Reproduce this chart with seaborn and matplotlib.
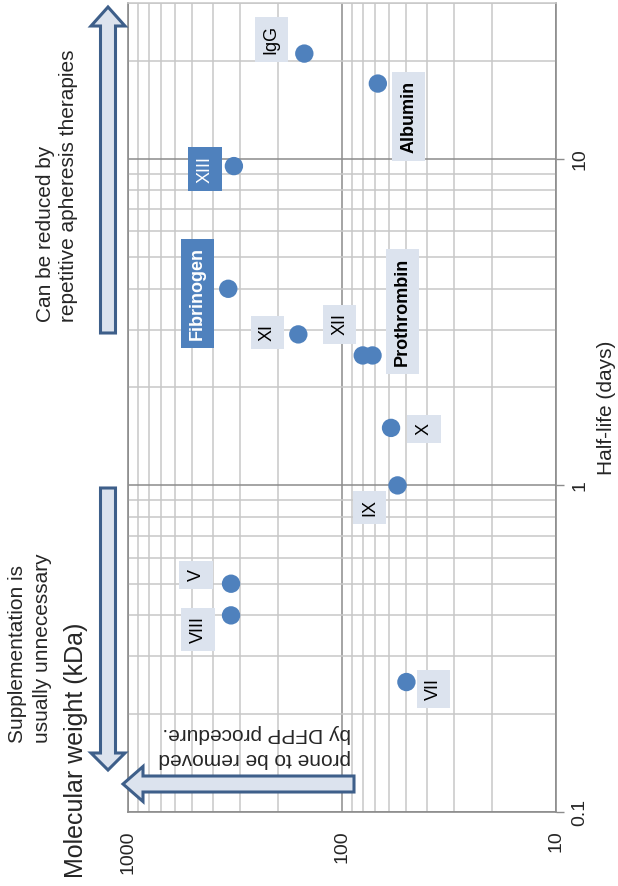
# ======================
# Import Libraries
# ======================

import matplotlib
matplotlib.use("Agg")
import matplotlib.pyplot as plt
from matplotlib.patches import FancyArrow
from matplotlib.ticker import LogLocator, NullFormatter
import seaborn as sns

# ======================
# Data
# ======================

factors = ["IgG", "Albumin", "XIII", "Fibrinogen", "XI", "XII",
           "Prothrombin", "X", "IX", "V", "VIII", "VII"]
mol_weight = [150, 68, 320, 340, 160, 80, 72, 59, 55, 330, 330, 50]      # kDa
half_life = [21, 17, 9.5, 4.0, 2.9, 2.5, 2.5, 1.5, 1.0, 0.5, 0.4, 0.25]  # days

# label boxes: offset from the dot in pixels (right, down)
label_offsets = [(-33, -14), (31, 33), (-29, 3), (-31, 5), (-31, -2), (-23, -31),
                 (30, -44), (33, 1), (-28, 22), (-35, -9), (-33, 14), (27, 7)]
highlighted = ["XIII", "Fibrinogen"]
bold_labels = ["Fibrinogen", "Prothrombin", "Albumin"]

mw_ticks = [1000, 100, 10]
mw_tick_labels = ["1000", "100", "10"]
hl_ticks = [0.1, 1, 10]
hl_tick_labels = ["0.1", "1", "10"]

# ======================
# Style
# ======================

sns.set_style("white")
plt.rcParams["font.family"] = ["Liberation Sans", "DejaVu Sans"]

DOT = "#4f81bd"
LIGHT = "#dce3ee"
EDGE = "#3e5f8a"
MAJOR = "#8c8c8c"
MINOR = "#c8c8c8"

W, H = 618, 886
fig = plt.figure(figsize=(W / 100, H / 100), dpi=100)
ax = fig.add_axes([128 / W, 1 - 812 / H, 428 / W, 809 / H])

# ======================
# Scatter
# ======================

sns.scatterplot(x=mol_weight, y=half_life, s=175, color=DOT,
                edgecolor="none", zorder=3, ax=ax)

ax.set_xscale("log")
ax.set_yscale("log")
ax.set_xlim(1000, 10)
ax.set_ylim(0.1, 30)

ax.set_xticks(mw_ticks)
ax.set_xticklabels(mw_tick_labels)
ax.set_yticks(hl_ticks)
ax.set_yticklabels(hl_tick_labels)
ax.xaxis.set_minor_locator(LogLocator(base=10, subs=range(2, 10)))
ax.yaxis.set_minor_locator(LogLocator(base=10, subs=range(2, 10)))
ax.xaxis.set_minor_formatter(NullFormatter())
ax.yaxis.set_minor_formatter(NullFormatter())

ax.grid(which="major", color=MAJOR, lw=1.1)
ax.grid(which="minor", color=MINOR, lw=1.1)
ax.set_axisbelow(True)

ax.yaxis.tick_right()
ax.yaxis.set_label_position("right")
ax.tick_params(which="minor", length=0)
ax.tick_params(axis="x", which="major", length=6, width=1, color=MAJOR,
               labelsize=14, labelrotation=90, pad=7)
ax.tick_params(axis="y", which="major", length=6, width=1, color=MAJOR,
               labelsize=14, labelrotation=90, pad=5)
for lab in ax.get_yticklabels():
    lab.set_va("center")

for side in ["left", "right", "bottom"]:
    ax.spines[side].set_color(MAJOR)
    ax.spines[side].set_linewidth(1.2)
ax.spines["top"].set_color(MINOR)
ax.spines["top"].set_linewidth(1.1)

ax.set_ylabel("Half-life (days)", fontsize=15, labelpad=6)

# ======================
# Point labels
# ======================

for name, mw, hl, (dx, dy) in zip(factors, mol_weight, half_life, label_offsets):
    if name in highlighted:
        fc, tc = DOT, "white"
    else:
        fc, tc = LIGHT, "black"
    ax.annotate(name, (mw, hl), xytext=(dx * 0.72, -dy * 0.72),
                textcoords="offset points", ha="center", va="center",
                rotation=90, fontsize=13, color=tc,
                fontweight="bold" if name in bold_labels else "normal",
                bbox=dict(boxstyle="square,pad=0.45", fc=fc, ec="none"),
                zorder=4)

# ======================
# Arrows and notes (pixel overlay)
# ======================

ov = fig.add_axes([0, 0, 1, 1])
ov.set_xlim(0, W)
ov.set_ylim(H, 0)
ov.axis("off")
ov.patch.set_alpha(0)

arrow_kw = dict(length_includes_head=True, fc=LIGHT, ec=EDGE, lw=2.2)
ov.add_patch(FancyArrow(108, 333, 0, -326, width=15, head_width=34,
                        head_length=19, **arrow_kw))
ov.add_patch(FancyArrow(108, 488, 0, 282, width=15, head_width=34,
                        head_length=17, **arrow_kw))
ov.add_patch(FancyArrow(354, 784, -231, 0, width=16, head_width=35,
                        head_length=20, **arrow_kw))

ov.text(57, 322, "Can be reduced by\nrepetitive apheresis therapies",
        rotation=90, ha="center", va="bottom", multialignment="left",
        fontsize=15, linespacing=1.25)
ov.text(30, 743, "Supplementation is\nusually unnecessary",
        rotation=90, ha="center", va="bottom", multialignment="left",
        fontsize=15, linespacing=1.45)
ov.text(351, 746, "prone to be removed\nby DFPP procedure.",
        rotation=180, ha="right", va="center", multialignment="left",
        fontsize=15, linespacing=1.45)

fig.text(76 / W, 1 - 750 / H, "Molecular weight (kDa)", rotation=90,
         ha="center", va="center", fontsize=18)

plt.savefig("out.png", dpi=100)
